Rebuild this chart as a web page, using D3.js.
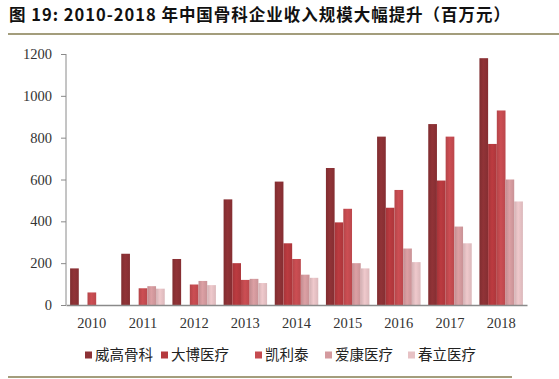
<!DOCTYPE html>
<html>
<head>
<meta charset="utf-8">
<script src="https://cdn.jsdelivr.net/npm/d3@7"></script>
<style>
  body { margin: 0; background: #fff; }
  svg { display: block; }
</style>
</head>
<body>
<svg id="chart" width="559" height="379"></svg>
<script>
var years = ["2010", "2011", "2012", "2013", "2014", "2015", "2016", "2017", "2018"];
var companies = ["威高骨科", "大博医疗", "凯利泰", "爱康医疗", "春立医疗"];
var weigao  = [175, 245, 220, 505, 590, 655, 805, 865, 1180];
var dabo    = [null, null, null, 200, 295, 395, 465, 595, 770];
var kailitai = [60, 80, 98, 120, 220, 460, 550, 805, 930];
var aikang  = [null, 90, 115, 125, 145, 200, 270, 375, 600];
var chunli  = [null, 78, 95, 105, 130, 175, 205, 295, 495];
var yTicks = [0, 200, 400, 600, 800, 1000, 1200];
var colors = ["#8c3135", "#b5393e", "#c54b50", "#d49a9e", "#e7c2c5"];

var series = [weigao, dabo, kailitai, aikang, chunli];

var svg = d3.select("#chart");

// title
svg.append("text")
    .attr("x", 9)
    .attr("y", 21)
    .attr("font-family", "'Noto Sans CJK SC', 'Noto Sans', sans-serif")
    .attr("font-weight", "bold")
    .attr("font-size", 16.5)
    .attr("fill", "#111")
    .attr("textLength", 501)
    .attr("lengthAdjust", "spacing")
    .text("图 19: 2010-2018 年中国骨科企业收入规模大幅提升（百万元）");

svg.append("line")
    .attr("x1", 8).attr("x2", 559)
    .attr("y1", 34).attr("y2", 34)
    .attr("stroke", "#a39d7c").attr("stroke-width", 2);

svg.append("line")
    .attr("x1", 8).attr("x2", 512)
    .attr("y1", 377).attr("y2", 377)
    .attr("stroke", "#a39d7c").attr("stroke-width", 2);

// gradients so the bars look a bit rounded
var defs = svg.append("defs");
colors.forEach(function(c, i) {
    var g = defs.append("linearGradient")
        .attr("id", "grad" + i)
        .attr("x1", "0%").attr("x2", "100%")
        .attr("y1", "0%").attr("y2", "0%");
    g.append("stop").attr("offset", "0%").attr("stop-color", d3.color(c).darker(0.25));
    g.append("stop").attr("offset", "45%").attr("stop-color", d3.color(c).brighter(0.1));
    g.append("stop").attr("offset", "100%").attr("stop-color", d3.color(c).darker(0.15));
});

var x = d3.scaleBand()
    .domain(years)
    .range([66, 527])
    .paddingInner(0.15)
    .paddingOuter(0.08);

var xInner = d3.scaleBand()
    .domain(d3.range(companies.length))
    .range([0, x.bandwidth()]);

var y = d3.scaleLinear()
    .domain([0, 1200])
    .range([305, 54]);

// bars
series.forEach(function(vals, si) {
    svg.append("g")
        .selectAll("rect")
        .data(vals.map(function(v, i) { return { year: years[i], value: v }; })
                  .filter(function(d) { return d.value != null; }))
        .enter()
        .append("rect")
        .attr("x", function(d) { return x(d.year) + xInner(si); })
        .attr("y", function(d) { return y(d.value); })
        .attr("width", xInner.bandwidth())
        .attr("height", function(d) { return y(0) - y(d.value); })
        .attr("fill", "url(#grad" + si + ")");
});

// y axis
var yAxis = svg.append("g")
    .attr("transform", "translate(66,0)")
    .call(d3.axisLeft(y).tickValues(yTicks).tickFormat(d3.format("d")).tickSize(5).tickPadding(9));
yAxis.selectAll("text")
    .attr("font-family", "'Liberation Serif', 'DejaVu Serif', serif")
    .attr("font-size", 14.5)
    .attr("fill", "#333");
yAxis.selectAll("line, path").attr("stroke", "#8a8a8a");
yAxis.select(".domain").attr("d", "M0,54V305");

// x axis
var xAxis = svg.append("g")
    .attr("transform", "translate(0,305)")
    .call(d3.axisBottom(x).tickSize(0).tickPadding(13));
xAxis.selectAll("text")
    .attr("font-family", "'Liberation Serif', 'DejaVu Serif', serif")
    .attr("font-size", 14.5)
    .attr("fill", "#333");
xAxis.select(".domain").attr("stroke", "#8a8a8a").attr("stroke-width", 1.5);

// legend
var legendX = [85, 161, 255, 325, 408];
var legend = svg.append("g")
    .selectAll("g")
    .data(companies)
    .enter()
    .append("g")
    .attr("transform", function(d, i) { return "translate(" + legendX[i] + ",355)"; });
legend.append("rect")
    .attr("x", 0).attr("y", -3.5)
    .attr("width", 7).attr("height", 7)
    .attr("fill", function(d, i) { return colors[i]; });
legend.append("text")
    .attr("x", 10)
    .attr("y", 0)
    .attr("dy", "0.36em")
    .attr("font-family", "'Noto Sans CJK SC', sans-serif")
    .attr("font-size", 14.5)
    .attr("fill", "#222")
    .text(function(d) { return d; });
</script>
</body>
</html>
